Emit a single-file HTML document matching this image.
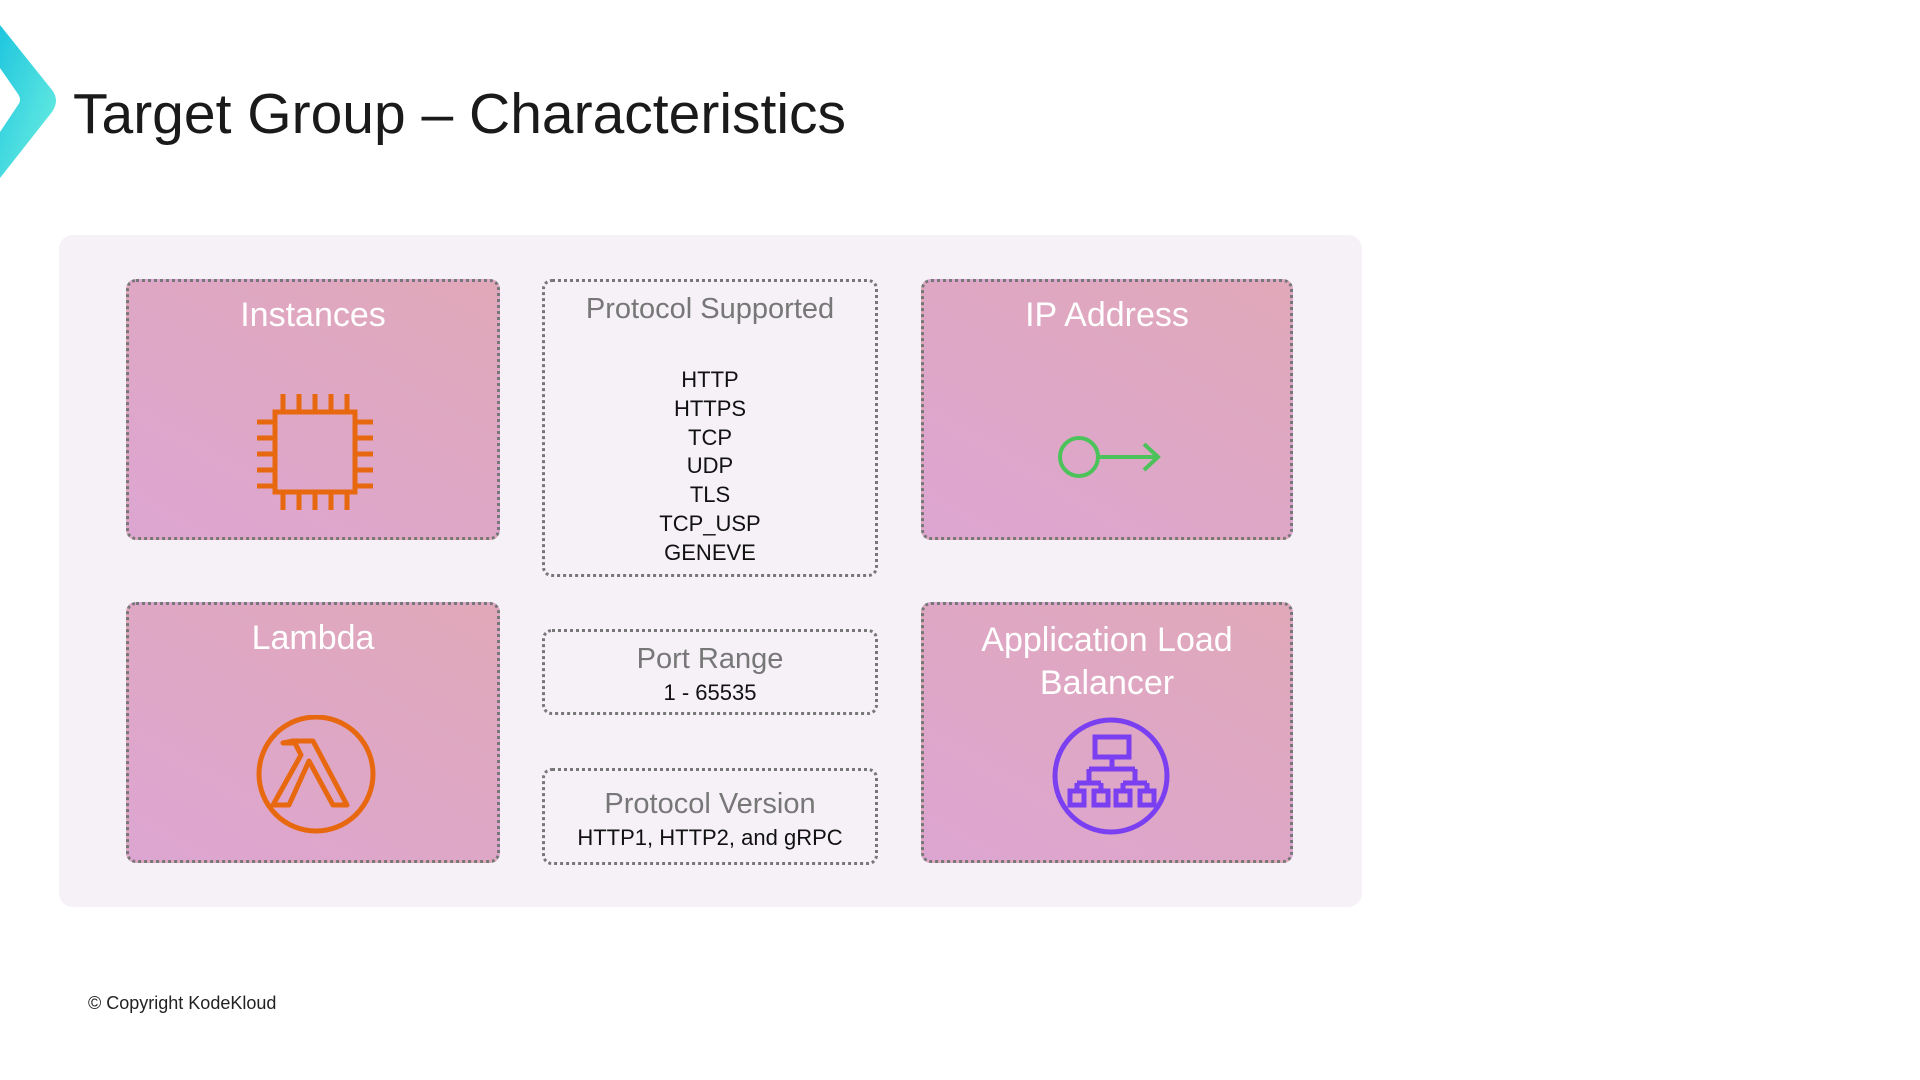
<!DOCTYPE html>
<html><head><meta charset="utf-8"><style>
body{margin:0;width:1920px;height:1080px;background:#fff;position:relative;overflow:hidden;font-family:"Liberation Sans",sans-serif}
.a{position:absolute}
.panel{left:59px;top:235px;width:1303px;height:672px;background:#f5f1f7;border-radius:14px}
.box{position:absolute;border:3px dotted #777;border-radius:10px;box-sizing:border-box}
.pink{background:linear-gradient(30deg,#dda6d2,#e0a8b8)}
.wt{color:#fff;font-size:34px;text-align:center;position:absolute;left:0;right:0}
.gt{color:#777;font-size:29px;text-align:center;position:absolute;left:0;right:0}
.bt{color:#111;font-size:22px;text-align:center;position:absolute;left:0;right:0}
</style></head><body>
<svg class="a" style="left:0;top:0" width="80" height="190"><defs><linearGradient id="g" x1="0" y1="0" x2="1" y2="1"><stop offset="0" stop-color="#1ec6df"/><stop offset="1" stop-color="#6ff0e0"/></linearGradient></defs><path d="M0 25 L52 90 Q60 100 52 112 L0 178 L0 132 L18 105 Q22 100 18 94 L0 68 Z" fill="url(#g)"/></svg>
<div class="a" style="left:73px;top:81px;font-size:57px;color:#1a1a1a">Target Group – Characteristics</div>
<div class="a panel"></div>

<div class="box pink" style="left:126px;top:279px;width:374px;height:261px"><div class="wt" style="top:14px">Instances</div>
<svg class="a" style="left:124px;top:110px" width="126" height="120"><g fill="none" stroke="#e8680f" stroke-width="5"><rect x="22" y="20" width="80" height="80"/><path d="M30 2v18M46 2v18M62 2v18M78 2v18M94 2v18M30 100v18M46 100v18M62 100v18M78 100v18M94 100v18M4 30h18M4 46h18M4 62h18M4 78h18M4 94h18M102 30h18M102 46h18M102 62h18M102 78h18M102 94h18"/></g></svg></div>

<div class="box" style="left:542px;top:279px;width:336px;height:298px"><div class="gt" style="top:11px">Protocol Supported</div>
<div class="bt" style="top:84px;line-height:28.8px">HTTP<br>HTTPS<br>TCP<br>UDP<br>TLS<br>TCP_USP<br>GENEVE</div></div>

<div class="box pink" style="left:921px;top:279px;width:372px;height:261px"><div class="wt" style="top:14px">IP Address</div>
<svg class="a" style="left:130px;top:150px" width="120" height="50"><g fill="none" stroke="#4cc35a" stroke-width="4"><circle cx="25" cy="25" r="19"/><path d="M44 25h60M90 12l14 13-14 13"/></g></svg></div>

<div class="box pink" style="left:126px;top:602px;width:374px;height:261px"><div class="wt" style="top:14px">Lambda</div>
<svg class="a" style="left:124px;top:110px" width="126" height="126"><g fill="none" stroke="#e8680f" stroke-width="5"><circle cx="63" cy="59" r="57"/><path d="M40 26h20l34 64h-14l-24-44-20 44h-16l28-50-6-12h-12z" stroke-linejoin="round"/></g></svg></div>

<div class="box" style="left:542px;top:629px;width:336px;height:86px"><div class="gt" style="top:11px">Port Range</div><div class="bt" style="top:48px">1 - 65535</div></div>
<div class="box" style="left:542px;top:768px;width:336px;height:97px"><div class="gt" style="top:17px">Protocol Version</div><div class="bt" style="top:54px">HTTP1, HTTP2, and gRPC</div></div>

<div class="box pink" style="left:921px;top:602px;width:372px;height:261px"><div class="wt" style="top:14px;line-height:43px">Application Load<br>Balancer</div>
<svg class="a" style="left:124px;top:110px" width="126" height="126"><g fill="none" stroke="#7b3ff2" stroke-width="5"><circle cx="63" cy="61" r="56"/><rect x="47" y="22" width="34" height="20"/><path d="M64 42v12M41 54h46M41 54v14M87 54v14M29 68h24M75 68h24M29 68v8M53 68v8M75 68v8M99 68v8"/><rect x="22" y="76" width="14" height="14"/><rect x="46" y="76" width="14" height="14"/><rect x="68" y="76" width="14" height="14"/><rect x="92" y="76" width="14" height="14"/></g></svg></div>

<div class="a" style="left:88px;top:993px;font-size:18px;color:#222">© Copyright KodeKloud</div>
</body></html>
